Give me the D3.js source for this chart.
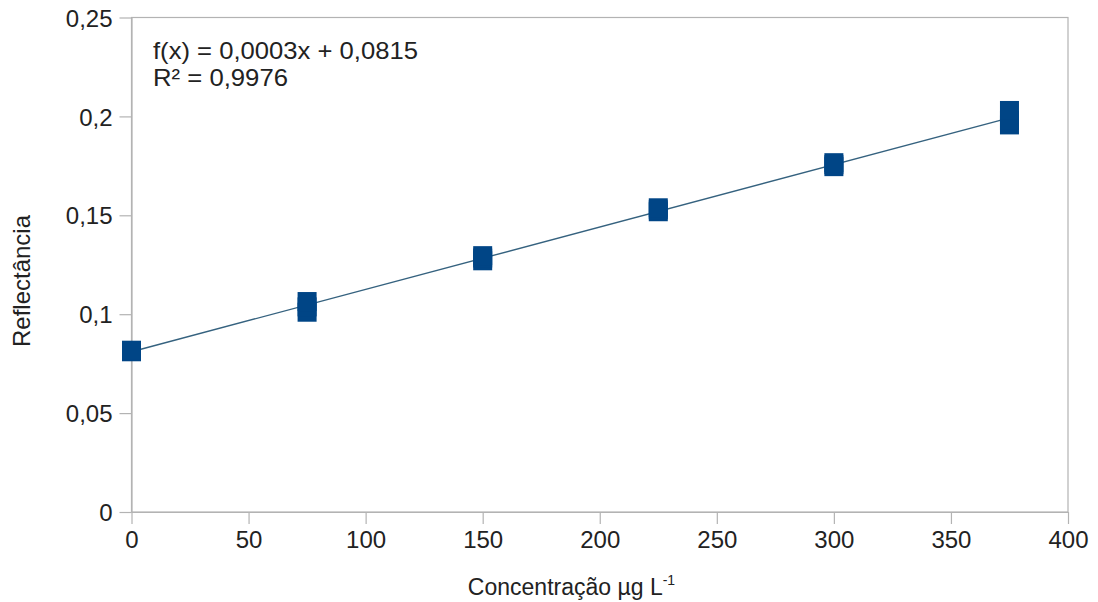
<!DOCTYPE html>
<html><head><meta charset="utf-8">
<script src="https://cdn.jsdelivr.net/npm/d3@7"></script>
<style>
body{margin:0;background:#fff;}
text{font-family:"Liberation Sans",Arial,sans-serif;}
</style></head>
<body><svg id="c" width="1098" height="602"></svg>
<script>
const concentrations = [0,0,0,75,75,75,150,150,150,225,225,225,300,300,300,375,375,375];
const reflectance = [0.0810,0.0815,0.0818, 0.1010,0.1037,0.1064, 0.1270,0.1284,0.1296, 0.1518,0.1528,0.1538, 0.1746,0.1756,0.1766, 0.1957,0.1980,0.2030];
const xTicks = [0,50,100,150,200,250,300,350,400];
const yTicks = [0,0.05,0.1,0.15,0.2,0.25];
const equationLines = ["f(x) = 0,0003x + 0,0815", "R² = 0,9976"];
const xTitle = "Concentração µg L";
const xTitleSup = "-1";
const yTitle = "Reflectância";

const svg = d3.select("#c");
const L=131.5, R=1068, T=17.5, B=512;
const x = d3.scaleLinear().domain([0,400]).range([L,R]);
const y = d3.scaleLinear().domain([0,0.25]).range([B,T]);
const fmt = d => d3.format("")(d).replace(".", ",");
const axisColor = "#b3b3b3";

// frame
svg.append("rect").attr("x",L).attr("y",T).attr("width",R-L).attr("height",B-T)
  .attr("fill","none").attr("stroke",axisColor).attr("stroke-width",1.2);

const gx = svg.append("g").attr("transform",`translate(0,${B})`)
  .call(d3.axisBottom(x).tickValues(xTicks).tickSize(12).tickSizeOuter(0).tickPadding(7).tickFormat(d=>d));
const gy = svg.append("g").attr("transform",`translate(${L},0)`)
  .call(d3.axisLeft(y).tickValues(yTicks).tickSize(12).tickSizeOuter(0).tickPadding(7).tickFormat(fmt));
[gx,gy].forEach(g=>{
  g.select(".domain").attr("stroke",axisColor).attr("stroke-width",1.2);
  g.selectAll(".tick line").attr("stroke",axisColor).attr("stroke-width",1.2);
  g.selectAll(".tick text").attr("fill","#222").style("font-size","24px").attr("font-family","Liberation Sans, Arial, sans-serif");
});
gx.selectAll(".tick text").attr("dy","0.71em");
gy.selectAll(".tick text").attr("dy","0.36em");

// linear regression from data
const n = concentrations.length;
const mx = d3.mean(concentrations), my = d3.mean(reflectance);
let sxy=0,sxx=0;
for(let i=0;i<n;i++){sxy+=(concentrations[i]-mx)*(reflectance[i]-my);sxx+=(concentrations[i]-mx)**2;}
const slope=sxy/sxx, icpt=my-slope*mx;
const x0=d3.min(concentrations), x1=d3.max(concentrations);
svg.append("line").attr("x1",x(x0)).attr("y1",y(icpt+slope*x0)).attr("x2",x(x1)).attr("y2",y(icpt+slope*x1))
  .attr("stroke","#35627f").attr("stroke-width",1.4);

// markers
const s=19;
svg.append("g").selectAll("rect").data(concentrations.map((c,i)=>[c,reflectance[i]])).join("rect")
  .attr("x",d=>x(d[0])-s/2).attr("y",d=>y(d[1])-s/2).attr("width",s).attr("height",s)
  .attr("fill","#004586");

// equation
const eqWidths = [265, 135];
svg.append("g").selectAll("text").data(equationLines).join("text")
  .attr("x",153).attr("y",(d,i)=>58.5+i*27).attr("fill","#222").style("font-size","24px")
  .attr("textLength",(d,i)=>eqWidths[i]).attr("lengthAdjust","spacingAndGlyphs").text(d=>d);

// axis titles
const xt = svg.append("text").attr("x",571.5).attr("y",595).attr("text-anchor","middle").attr("fill","#222").style("font-size","23px");
xt.append("tspan").text(xTitle);
xt.append("tspan").attr("dy",-10).style("font-size","14px").text(xTitleSup);
svg.append("text").attr("transform","translate(30,281) rotate(-90)").attr("text-anchor","middle")
  .attr("fill","#222").style("font-size","24px").text(yTitle);
</script></body></html>
